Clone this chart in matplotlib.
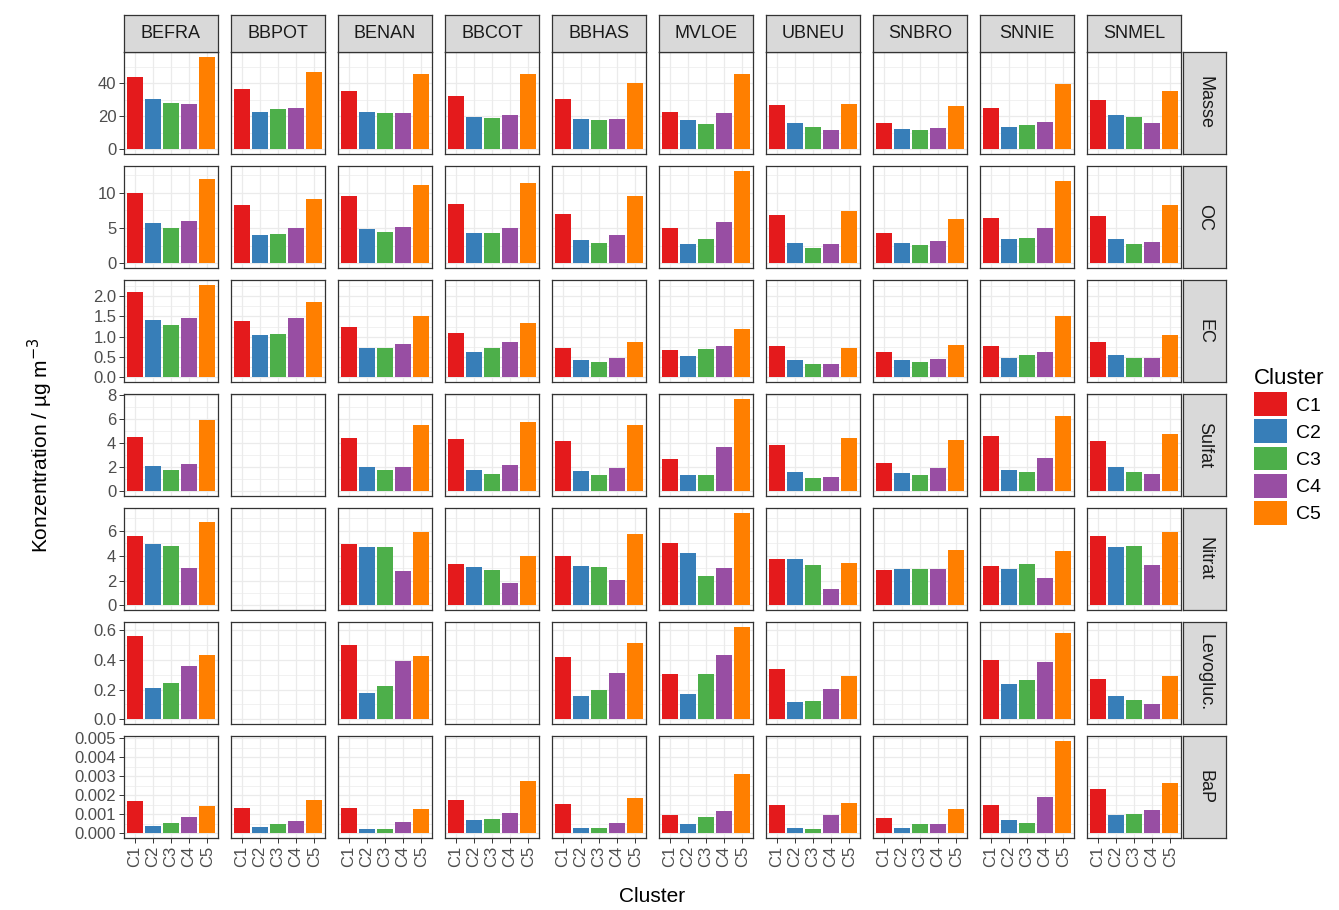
import numpy as np
import matplotlib.pyplot as plt
from matplotlib.patches import Patch
from matplotlib.ticker import MultipleLocator, FormatStrFormatter

plt.rcParams['font.family'] = ['Liberation Sans', 'DejaVu Sans']

stations = ['BEFRA', 'BBPOT', 'BENAN', 'BBCOT', 'BBHAS',
            'MVLOE', 'UBNEU', 'SNBRO', 'SNNIE', 'SNMEL']
clusters = ['C1', 'C2', 'C3', 'C4', 'C5']
components = ['Masse', 'OC', 'EC', 'Sulfat', 'Nitrat', 'Levogluc.', 'BaP']
colors = ['#E41A1C', '#377EB8', '#4DAF4A', '#984EA3', '#FF7F00']

nan = np.nan
# mean concentration per station (rows) and cluster C1..C5 (columns)
masse = [[43.6, 30.3, 27.7, 27.1, 56.0],
         [36.4, 22.8, 24.4, 25.1, 46.5],
         [35.4, 22.8, 22.2, 21.8, 45.3],
         [32.3, 19.8, 19.0, 21.0, 45.3],
         [30.3, 18.6, 17.8, 18.6, 39.8],
         [22.8, 17.8, 15.2, 22.0, 45.3],
         [26.7, 16.2, 13.7, 11.7, 27.3],
         [16.0, 12.5, 11.5, 12.9, 26.1],
         [24.8, 13.7, 14.9, 16.6, 39.2],
         [29.7, 20.6, 19.8, 16.2, 35.2]]
oc = [[9.9, 5.65, 4.95, 6.0, 11.9],
      [8.3, 4.0, 4.15, 5.05, 9.15],
      [9.5, 4.8, 4.4, 5.2, 11.1],
      [8.45, 4.35, 4.35, 5.05, 11.4],
      [6.95, 3.3, 2.85, 4.0, 9.5],
      [5.05, 2.7, 3.4, 5.8, 13.1],
      [6.8, 2.85, 2.15, 2.7, 7.4],
      [4.35, 2.85, 2.55, 3.2, 6.25],
      [6.4, 3.4, 3.6, 5.05, 11.7],
      [6.7, 3.45, 2.8, 3.0, 8.3]]
ec = [[2.09, 1.41, 1.29, 1.45, 2.28],
      [1.39, 1.05, 1.07, 1.46, 1.85],
      [1.24, 0.73, 0.71, 0.83, 1.52],
      [1.09, 0.63, 0.72, 0.86, 1.34],
      [0.73, 0.42, 0.39, 0.47, 0.86],
      [0.67, 0.52, 0.70, 0.78, 1.19],
      [0.76, 0.42, 0.32, 0.32, 0.73],
      [0.63, 0.42, 0.39, 0.45, 0.80],
      [0.78, 0.47, 0.55, 0.63, 1.52],
      [0.88, 0.54, 0.47, 0.47, 1.03]]
sulfat = [[4.53, 2.14, 1.80, 2.30, 5.94],
          [nan, nan, nan, nan, nan],
          [4.44, 2.05, 1.80, 2.05, 5.56],
          [4.36, 1.80, 1.47, 2.22, 5.75],
          [4.17, 1.72, 1.36, 1.97, 5.56],
          [2.69, 1.36, 1.36, 3.69, 7.72],
          [3.83, 1.64, 1.11, 1.17, 4.44],
          [2.33, 1.53, 1.36, 1.92, 4.25],
          [4.58, 1.80, 1.64, 2.78, 6.25],
          [4.17, 2.05, 1.64, 1.47, 4.78]]
nitrat = [[5.60, 4.93, 4.80, 3.04, 6.75],
          [nan, nan, nan, nan, nan],
          [4.93, 4.72, 4.72, 2.77, 5.87],
          [3.36, 3.09, 2.85, 1.84, 3.95],
          [3.95, 3.20, 3.09, 2.08, 5.76],
          [5.04, 4.19, 2.40, 3.04, 7.47],
          [3.71, 3.71, 3.25, 1.33, 3.44],
          [2.85, 2.96, 2.96, 2.96, 4.43],
          [3.20, 2.96, 3.36, 2.19, 4.35],
          [5.55, 4.72, 4.80, 3.25, 5.87]]
levogluc = [[0.556, 0.209, 0.247, 0.358, 0.429],
            [nan, nan, nan, nan, nan],
            [0.498, 0.180, 0.224, 0.391, 0.427],
            [nan, nan, nan, nan, nan],
            [0.420, 0.156, 0.200, 0.313, 0.509],
            [0.307, 0.169, 0.307, 0.433, 0.622],
            [0.340, 0.118, 0.124, 0.202, 0.289],
            [nan, nan, nan, nan, nan],
            [0.400, 0.236, 0.267, 0.384, 0.582],
            [0.273, 0.156, 0.127, 0.104, 0.289]]
bap = [[0.00170, 0.00038, 0.00054, 0.00087, 0.00142],
       [0.00135, 0.00033, 0.00049, 0.00066, 0.00175],
       [0.00132, 0.00023, 0.00023, 0.00059, 0.00127],
       [0.00175, 0.00068, 0.00073, 0.00109, 0.00274],
       [0.00153, 0.00028, 0.00028, 0.00054, 0.00186],
       [0.00097, 0.00049, 0.00087, 0.00116, 0.00313],
       [0.00148, 0.00028, 0.00023, 0.00094, 0.00160],
       [0.00082, 0.00028, 0.00049, 0.00049, 0.00127],
       [0.00148, 0.00071, 0.00054, 0.00193, 0.00486],
       [0.00231, 0.00094, 0.00099, 0.00122, 0.00264]]

data = [masse, oc, ec, sulfat, nitrat, levogluc, bap]
ysteps = [20, 5, 0.5, 2, 2, 0.2, 0.001]
ydigits = [0, 0, 1, 0, 0, 1, 3]

# layout in pixels
W, H = 1339, 910
col_left, col_step, pw = 124, 107, 94
row_top, row_step, ph = 52, 114, 102
strip_h = 37
rstrip_gap, rstrip_w = 2, 43
border = '#333333'
grid_c = '#EBEBEB'
tick_c = '#4D4D4D'


def rect(x, y, w, h):
    return [x / W, 1 - (y + h) / H, w / W, h / H]


fig = plt.figure(figsize=(W / 100, H / 100), dpi=100)
xpos = np.arange(1, 6)

for i, comp in enumerate(components):
    vals = np.array(data[i], dtype=float)
    top = np.nanmax(vals)
    y0 = row_top + i * row_step
    for j, st in enumerate(stations):
        x0 = col_left + j * col_step
        ax = fig.add_axes(rect(x0, y0, pw, ph))
        ax.set_axisbelow(True)
        if not np.all(np.isnan(vals[j])):
            ax.bar(xpos, vals[j], width=0.9, color=colors)
        ax.set_xlim(0.4, 5.6)
        ax.set_ylim(-0.05 * top, 1.05 * top)
        ax.set_xticks(xpos)
        ax.yaxis.set_major_locator(MultipleLocator(ysteps[i]))
        ax.yaxis.set_minor_locator(MultipleLocator(ysteps[i] / 2))
        ax.yaxis.set_major_formatter(FormatStrFormatter('%%.%df' % ydigits[i]))
        ax.grid(True, which='major', color=grid_c, lw=0.9)
        ax.grid(True, which='minor', axis='y', color=grid_c, lw=0.5)
        for s in ax.spines.values():
            s.set_color(border)
            s.set_linewidth(0.9)
        ax.tick_params(which='minor', left=False)
        ax.tick_params(which='major', length=3.5, width=0.7, color=border,
                       labelsize=12, labelcolor=tick_c, pad=2)
        if j > 0:
            ax.tick_params(axis='y', left=False, labelleft=False)
        if i < len(components) - 1:
            ax.tick_params(axis='x', bottom=False, labelbottom=False)
        else:
            ax.set_xticklabels(clusters, rotation=90, va='top', ha='center')

        # station strips along the top
        if i == 0:
            sa = fig.add_axes(rect(x0, y0 - strip_h, pw, strip_h))
            sa.set_facecolor('#D9D9D9')
            sa.set_xticks([])
            sa.set_yticks([])
            for s in sa.spines.values():
                s.set_color(border)
                s.set_linewidth(0.9)
            sa.text(0.5, 0.5, st, ha='center', va='center', fontsize=13,
                    color='#1A1A1A', transform=sa.transAxes)

    # component strips on the right
    sx = col_left + 9 * col_step + pw + rstrip_gap
    sa = fig.add_axes(rect(sx, y0, rstrip_w, ph))
    sa.set_facecolor('#D9D9D9')
    sa.set_xticks([])
    sa.set_yticks([])
    for s in sa.spines.values():
        s.set_color(border)
        s.set_linewidth(0.9)
    sa.text(0.5, 0.5, comp, ha='center', va='center', fontsize=13,
            rotation=270, color='#1A1A1A', transform=sa.transAxes)

# axis titles
panels_mid_y = row_top + (6 * row_step + ph) / 2
panels_mid_x = col_left + (9 * col_step + pw) / 2
fig.text(40 / W, 1 - panels_mid_y / H, 'Konzentration / µg m$^{-3}$',
         rotation=90, ha='center', va='center', fontsize=15)
fig.text(panels_mid_x / W, 1 - 897 / H, 'Cluster', ha='center', va='center',
         fontsize=15)

handles = [Patch(facecolor=c, edgecolor='none') for c in colors]
leg = fig.legend(handles, clusters, title='Cluster', loc='upper left',
                 bbox_to_anchor=(1246 / W, 1 - 360 / H), frameon=False,
                 fontsize=14, title_fontsize=16, handlelength=1.7,
                 handleheight=1.5, labelspacing=0.18, handletextpad=0.45,
                 borderaxespad=0, alignment='left')

fig.savefig('out.png', dpi=100, facecolor='white')
